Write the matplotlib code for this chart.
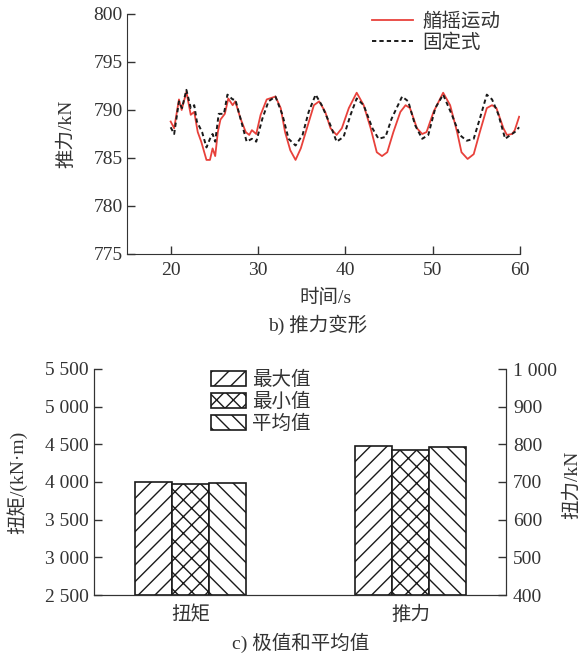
import numpy as np
import matplotlib
matplotlib.use('Agg')
import matplotlib.pyplot as plt
from matplotlib.patches import Patch
from matplotlib.lines import Line2D

# --- b) thrust time history (read off the picture) ---
t_red = [20.0, 20.4, 20.95, 21.26, 21.8, 22.3, 22.7, 23.1, 23.5, 24.1, 24.5, 24.8, 25.1, 25.4,
         25.7, 26.2, 26.6, 27.1, 27.4, 28.0, 28.6, 29.0, 29.3, 29.8, 30.3, 31.0, 32.0, 32.6,
         33.1, 33.7, 34.3, 34.9, 35.6, 36.4, 37.0, 37.7, 38.3, 39.0, 39.6, 40.4, 41.3, 42.1,
         42.9, 43.6, 44.2, 44.8, 45.5, 46.3, 46.9, 47.4, 48.2, 48.8, 49.3, 50.1, 51.2, 52.0,
         52.8, 53.3, 54.0, 54.7, 55.4, 56.2, 56.8, 57.3, 58.1, 58.5, 59.1, 59.4, 59.9]
y_red = [788.8, 788.1, 791.1, 790.0, 791.9, 789.5, 789.8, 787.7, 786.7, 784.8, 784.8, 786.0, 785.2, 787.7,
         789.0, 789.6, 791.2, 790.5, 790.9, 789.1, 787.7, 787.4, 787.9, 787.5, 789.5, 791.1, 791.4, 790.2,
         787.7, 785.8, 784.8, 786.0, 788.1, 790.5, 790.9, 789.8, 788.1, 787.4, 788.1, 790.2, 791.8, 790.5,
         788.1, 785.6, 785.2, 785.6, 787.7, 789.8, 790.5, 790.2, 788.1, 787.5, 787.7, 789.8, 791.8, 790.5,
         787.7, 785.6, 784.9, 785.4, 787.7, 790.2, 790.5, 790.2, 788.1, 787.4, 787.5, 787.9, 789.3]

t_fix = [20.0, 20.4, 20.95, 21.3, 21.8, 22.3, 22.7, 23.0, 23.6, 24.1, 24.5, 24.8, 25.1, 25.5,
         26.1, 26.5, 27.1, 27.4, 28.0, 28.7, 29.3, 29.8, 30.5, 31.2, 32.0, 32.8, 33.5, 34.3,
         35.1, 35.8, 36.6, 37.3, 38.3, 39.0, 39.8, 40.6, 41.3, 42.1, 43.1, 43.8, 44.6, 45.3,
         46.5, 47.2, 48.0, 48.8, 49.5, 50.3, 51.2, 52.2, 53.1, 53.9, 54.7, 55.4, 56.2, 56.8,
         57.5, 58.3, 58.9, 59.4, 59.9]
y_fix = [788.2, 787.5, 790.9, 790.2, 792.1, 790.2, 790.5, 788.8, 787.7, 786.1, 787.0, 787.5, 786.7, 789.6,
         789.6, 791.6, 791.1, 791.1, 789.1, 786.7, 787.0, 786.7, 789.1, 790.9, 791.4, 789.5, 787.0, 786.3,
         787.4, 789.8, 791.6, 790.5, 788.4, 786.7, 787.2, 789.5, 791.2, 790.5, 788.1, 787.0, 787.2, 789.1,
         791.4, 790.9, 788.4, 787.0, 787.4, 790.2, 791.6, 789.5, 787.4, 786.8, 787.0, 789.1, 791.6, 791.1,
         789.6, 787.0, 787.4, 787.7, 788.2]

# --- c) extreme and mean values ---
categories = ['扭矩', '推力']
series_names = ['最大值', '最小值', '平均值']
torque_vals = [4005, 3970, 3988]   # kN·m, left axis
thrust_vals = [795, 786, 792]      # kN, right axis

W, H = 581, 659
INK = '#333333'

plt.rcParams['font.family'] = ['Liberation Serif', 'Noto Sans CJK SC']
plt.rcParams['font.size'] = 14
plt.rcParams['text.color'] = INK
plt.rcParams['axes.edgecolor'] = INK
plt.rcParams['xtick.color'] = INK
plt.rcParams['ytick.color'] = INK
plt.rcParams['hatch.linewidth'] = 1.0


def px(x, y):
    return x / W, 1 - y / H


fig = plt.figure(figsize=(W / 100, H / 100), dpi=100)

# ---------------- top chart ----------------
ax1 = fig.add_axes([127 / W, 1 - 254 / H, 393 / W, 240 / H])
ax1.plot(t_red, y_red, color='#e8413b', lw=1.3)
ax1.plot(t_fix, y_fix, color='#1a1a1a', lw=1.4, ls=(0, (2.2, 1.6)))
ax1.set_xlim(15, 60)
ax1.set_ylim(775, 800)
ax1.set_xticks([20, 30, 40, 50, 60])
ax1.set_yticks([775, 780, 785, 790, 795, 800])
ax1.spines[['top', 'right']].set_visible(False)
ax1.tick_params(direction='in', length=6, width=1, labelsize=14)
ax1.tick_params(axis='y', pad=3)
ax1.tick_params(axis='x', pad=6)

handles1 = [Line2D([], [], color='#e8413b', lw=1.3),
            Line2D([], [], color='#1a1a1a', lw=1.4, ls=(0, (2.2, 1.6)))]
fig.legend(handles1, ['艏摇运动', '固定式'], loc='upper left',
           bbox_to_anchor=px(372, 12), frameon=False, fontsize=14,
           handlelength=2.1, handletextpad=0.5, labelspacing=0.15,
           borderpad=0, borderaxespad=0)

fig.text(*px(66, 134), '推力/kN', rotation=90, ha='center', va='center', fontsize=14)
fig.text(*px(325, 298), '时间/s', ha='center', va='center', fontsize=14)
fig.text(*px(318, 325), 'b) 推力变形', ha='center', va='center', fontsize=14)

# ---------------- bottom chart ----------------
ax2 = fig.add_axes([94 / W, 1 - 595 / H, 412 / W, 226 / H])
ax3 = ax2.twinx()
hatches = ['//', 'xx', '\\\\']
bw = 0.168
x = np.arange(len(categories))
for i, name in enumerate(series_names):
    off = (i - 1) * bw
    ax2.bar(x[0] + off, torque_vals[i] - 2500, bw, bottom=2500, color='white',
            edgecolor='#1a1a1a', lw=1.2, hatch=hatches[i])
    ax3.bar(x[1] + off, thrust_vals[i] - 400, bw, bottom=400, color='white',
            edgecolor='#1a1a1a', lw=1.2, hatch=hatches[i])

ax2.set_xlim(-0.439, 1.434)
ax2.set_ylim(2500, 5500)
ax3.set_ylim(400, 1000)
ax2.set_yticks(np.arange(2500, 5501, 500))
ax2.set_yticklabels([f'{v // 1000} {v % 1000:03d}' for v in range(2500, 5501, 500)])
ax3.set_yticks(np.arange(400, 1001, 100))
ax3.set_yticklabels([str(v) if v < 1000 else '1 000' for v in range(400, 1001, 100)])
ax2.set_xticks(x)
ax2.set_xticklabels(categories)
for a in (ax2, ax3):
    a.spines['top'].set_visible(False)
ax2.tick_params(axis='x', length=0, pad=8, labelsize=14)
ax2.tick_params(axis='y', direction='in', length=6, width=1, pad=4, labelsize=14)
ax3.tick_params(axis='y', direction='in', length=6, width=1, pad=5, labelsize=14)

handles2 = [Patch(facecolor='white', edgecolor='#1a1a1a', hatch=h, lw=1.2) for h in hatches]
fig.legend(handles2, series_names, loc='upper left', bbox_to_anchor=px(211, 371),
           frameon=False, fontsize=14, handlelength=1.8, handleheight=0.8,
           handletextpad=0.3, labelspacing=0.2, borderpad=0, borderaxespad=0)

fig.text(*px(17, 482), '扭矩/(kN·m)', rotation=90, ha='center', va='center', fontsize=14)
fig.text(*px(572, 485), '扭力/kN', rotation=90, ha='center', va='center', fontsize=14)
fig.text(*px(301, 643), 'c) 极值和平均值', ha='center', va='center', fontsize=14)

fig.savefig('out.png', dpi=100)
